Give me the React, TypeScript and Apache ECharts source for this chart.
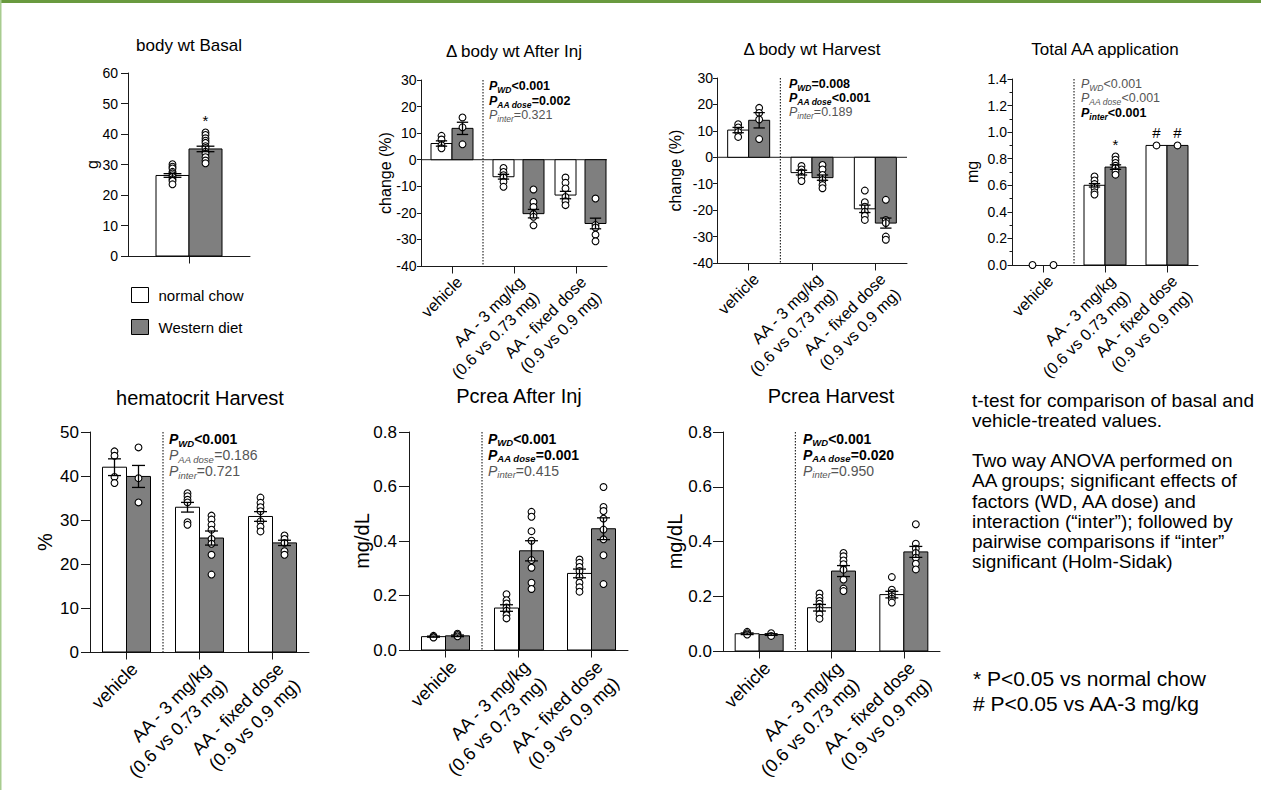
import React, { useEffect, useRef } from "react";
import * as echarts from "echarts";

const FONT = "'Liberation Sans', Arial, Helvetica, sans-serif";
const GRAY = "#7f7f7f";
const INK = "#1a1a1a";

// ---------- categories ----------
const basalCats = [""];
const aaCats = ["vehicle", "AA - 3 mg/kg\n(0.6 vs 0.73 mg)", "AA - fixed dose\n(0.9 vs 0.9 mg)"];

// ---------- body wt Basal (g) ----------
const bwBasalMeanNC = [26.4];
const bwBasalMeanWD = [35.1];
const bwBasalSemNC = [0.6];
const bwBasalSemWD = [0.9];
const bwBasalPtsNC = [[30.1, 29.3, 28.7, 27.6, 27.1, 26.5, 26.0, 25.2, 24.6, 23.5]];
const bwBasalPtsWD = [[40.5, 39.7, 38.6, 37.8, 37.1, 36.0, 35.4, 34.2, 33.6, 32.4, 31.3, 30.4]];

// ---------- Δ body wt After Inj (%) ----------
const bwInjMeanNC = [6.1, -6.4, -13.3];
const bwInjMeanWD = [11.8, -20.3, -24.0];
const bwInjSemNC = [1.0, 0.9, 1.4];
const bwInjSemWD = [2.3, 1.6, 2.0];
const bwInjPtsNC = [[9.0, 7.6, 5.5, 4.3], [-3.1, -4.6, -5.8, -6.7, -8.3, -10.2], [-6.7, -8.7, -10.8, -14.0, -15.6, -17.1]];
const bwInjPtsWD = [[15.9, 12.2, 5.8], [-11.2, -15.9, -17.8, -20.5, -21.5, -24.7], [-14.6, -24.6, -25.5, -28.2, -30.7]];

// ---------- Δ body wt Harvest (%) ----------
const bwHarMeanNC = [10.3, -5.8, -19.5];
const bwHarMeanWD = [14.0, -7.7, -24.9];
const bwHarSemNC = [1.0, 0.9, 1.4];
const bwHarSemWD = [2.9, 1.0, 1.9];
const bwHarPtsNC = [[12.5, 11.3, 9.6, 7.7], [-3.3, -4.6, -5.8, -7.4, -9.0], [-12.6, -17.0, -18.7, -20.6, -22.1, -23.7]];
const bwHarPtsWD = [[18.7, 16.8, 14.3, 6.9], [-2.9, -4.6, -6.7, -8.6, -10.5, -11.7], [-16.1, -23.7, -24.9, -30.0, -31.2]];

// ---------- Total AA application (mg) ----------
const aaMeanNC = [0, 0.6, 0.9];
const aaMeanWD = [0, 0.737, 0.9];
const aaSemNC = [0, 0.013, 0];
const aaSemWD = [0, 0.017, 0];
const aaPtsNC = [[0], [0.667, 0.637, 0.609, 0.58, 0.547, 0.53], [0.9]];
const aaPtsWD = [[0], [0.817, 0.793, 0.768, 0.747, 0.73, 0.705, 0.68], [0.9]];

// ---------- hematocrit Harvest (%) ----------
const hctMeanNC = [42.0, 32.9, 30.8];
const hctMeanWD = [39.9, 25.9, 24.8];
const hctSemNC = [1.9, 1.1, 1.1];
const hctSemWD = [2.5, 1.6, 0.6];
const hctPtsNC = [[45.6, 44.6, 39.8, 38.4], [36.1, 35.4, 34.6, 34.0, 29.5, 28.9], [35.1, 33.9, 32.9, 32.0, 29.7, 28.5, 27.4]];
const hctPtsWD = [[46.5, 39.5, 34.0], [31.0, 30.1, 28.9, 27.8, 25.7, 24.6, 22.1, 17.6], [26.5, 25.7, 24.8, 22.9, 22.1]];

// ---------- Pcrea After Inj (mg/dL) ----------
const pcInjMeanNC = [0.049, 0.154, 0.281];
const pcInjMeanWD = [0.052, 0.364, 0.445];
const pcInjSemNC = [0.002, 0.012, 0.016];
const pcInjSemWD = [0.003, 0.037, 0.04];
const pcInjPtsNC = [[0.052, 0.048, 0.046], [0.205, 0.183, 0.171, 0.156, 0.144, 0.128, 0.116], [0.332, 0.32, 0.305, 0.29, 0.269, 0.247, 0.23, 0.214]];
const pcInjPtsWD = [[0.06, 0.055, 0.05], [0.507, 0.489, 0.436, 0.401, 0.33, 0.302, 0.247, 0.224], [0.598, 0.525, 0.51, 0.482, 0.442, 0.406, 0.348, 0.242]];

// ---------- Pcrea Harvest (mg/dL) ----------
const pcHarMeanNC = [0.063, 0.158, 0.206];
const pcHarMeanWD = [0.06, 0.292, 0.362];
const pcHarSemNC = [0.003, 0.012, 0.012];
const pcHarSemWD = [0.003, 0.02, 0.02];
const pcHarPtsNC = [[0.07, 0.065, 0.06], [0.21, 0.195, 0.183, 0.173, 0.161, 0.149, 0.134, 0.118], [0.27, 0.224, 0.212, 0.2, 0.191, 0.177]];
const pcHarPtsWD = [[0.065, 0.055], [0.358, 0.346, 0.331, 0.317, 0.297, 0.261, 0.228, 0.219], [0.463, 0.392, 0.374, 0.358, 0.341, 0.319, 0.298]];

// ---------- statistics texts ----------
type PLine = [string, string, boolean];
const pBwInj: PLine[] = [["WD", "<0.001", true], ["AA dose", "=0.002", true], ["inter", "=0.321", false]];
const pBwHar: PLine[] = [["WD", "=0.008", true], ["AA dose", "<0.001", true], ["inter", "=0.189", false]];
const pAA: PLine[] = [["WD", "<0.001", false], ["AA dose", "<0.001", false], ["inter", "<0.001", true]];
const pHct: PLine[] = [["WD", "<0.001", true], ["AA dose", "=0.186", false], ["inter", "=0.721", false]];
const pPcInj: PLine[] = [["WD", "<0.001", true], ["AA dose", "=0.001", true], ["inter", "=0.415", false]];
const pPcHar: PLine[] = [["WD", "<0.001", true], ["AA dose", "=0.020", true], ["inter", "=0.950", false]];

// significance marks: [category, group (0 = normal chow, 1 = Western diet), symbol]
type Mark = [number, number, string];
const marksBasal: Mark[] = [[0, 1, "*"]];
const marksAA: Mark[] = [[1, 1, "*"], [2, 0, "#"], [2, 1, "#"]];

const noteText =
  "t-test for comparison of basal and\nvehicle-treated values.\n\nTwo way ANOVA performed on\nAA groups; significant effects of\nfactors (WD, AA dose) and\ninteraction (\u201cinter\u201d); followed by\npairwise comparisons if \u201cinter\u201d\nsignificant (Holm-Sidak)";
const footStar = "* P<0.05 vs normal chow";
const footHash = "# P<0.05 vs AA-3 mg/kg";

type Panel = {
  title: string;
  cats: string[];
  meanNC: number[]; meanWD: number[]; semNC: number[]; semWD: number[];
  ptsNC: number[][]; ptsWD: number[][];
  pvals?: PLine[];
  marks?: Mark[];
  grid: { left: number; top: number; width: number; height: number };
  y: { min: number; max: number; interval: number; decimals: number; minor?: boolean };
  yName: string; nameGap: number; nameSize: number;
  tickSize: number; tickLen: number; labelMargin: number;
  catSize: number; titleSize: number; titleX: number; titleTop: number;
  barW: number; gaps: number[]; sep: boolean;
  pPos?: { x: number; y: number; dy: number; main: number; sub: number };
};

const panels: Panel[] = [
  {
    title: "body wt Basal", cats: basalCats,
    meanNC: bwBasalMeanNC, meanWD: bwBasalMeanWD, semNC: bwBasalSemNC, semWD: bwBasalSemWD,
    ptsNC: bwBasalPtsNC, ptsWD: bwBasalPtsWD, marks: marksBasal,
    grid: { left: 128, top: 73, width: 122, height: 183 },
    y: { min: 0, max: 60, interval: 10, decimals: 0 },
    yName: "g", nameGap: 28, nameSize: 16, tickSize: 14, tickLen: 7, labelMargin: 10,
    catSize: 16, titleSize: 17, titleX: 189, titleTop: 37,
    barW: 33, gaps: [0], sep: false,
  },
  {
    title: "\u0394 body wt After Inj", cats: aaCats,
    meanNC: bwInjMeanNC, meanWD: bwInjMeanWD, semNC: bwInjSemNC, semWD: bwInjSemWD,
    ptsNC: bwInjPtsNC, ptsWD: bwInjPtsWD, pvals: pBwInj,
    grid: { left: 421, top: 80, width: 186, height: 186 },
    y: { min: -40, max: 30, interval: 10, decimals: 0 },
    yName: "change (%)", nameGap: 28, nameSize: 16, tickSize: 14, tickLen: 4, labelMargin: 4.5,
    catSize: 16, titleSize: 17, titleX: 514, titleTop: 43,
    barW: 21, gaps: [0, 9, 9], sep: true,
    pPos: { x: 489, y: 86, dy: 14.5, main: 12.5, sub: 8.5 },
  },
  {
    title: "\u0394 body wt Harvest", cats: aaCats,
    meanNC: bwHarMeanNC, meanWD: bwHarMeanWD, semNC: bwHarSemNC, semWD: bwHarSemWD,
    ptsNC: bwHarPtsNC, ptsWD: bwHarPtsWD, pvals: pBwHar,
    grid: { left: 717, top: 78, width: 190, height: 185 },
    y: { min: -40, max: 30, interval: 10, decimals: 0 },
    yName: "change (%)", nameGap: 34, nameSize: 16, tickSize: 14, tickLen: 4, labelMargin: 4,
    catSize: 16, titleSize: 17, titleX: 812, titleTop: 41,
    barW: 21, gaps: [0, 0, 0], sep: true,
    pPos: { x: 789, y: 83.5, dy: 14, main: 12.5, sub: 8.5 },
  },
  {
    title: "Total AA application", cats: aaCats,
    meanNC: aaMeanNC, meanWD: aaMeanWD, semNC: aaSemNC, semWD: aaSemWD,
    ptsNC: aaPtsNC, ptsWD: aaPtsWD, pvals: pAA, marks: marksAA,
    grid: { left: 1012, top: 79, width: 186, height: 186 },
    y: { min: 0, max: 1.4, interval: 0.2, decimals: 1, minor: true },
    yName: "mg", nameGap: 32, nameSize: 16, tickSize: 14, tickLen: 4.5, labelMargin: 5,
    catSize: 16, titleSize: 17, titleX: 1105, titleTop: 41,
    barW: 21, gaps: [0, 0, 0], sep: true,
    pPos: { x: 1081, y: 83.5, dy: 14.5, main: 12.5, sub: 8.5 },
  },
  {
    title: "hematocrit Harvest", cats: aaCats,
    meanNC: hctMeanNC, meanWD: hctMeanWD, semNC: hctSemNC, semWD: hctSemWD,
    ptsNC: hctPtsNC, ptsWD: hctPtsWD, pvals: pHct,
    grid: { left: 90, top: 432, width: 219, height: 220 },
    y: { min: 0, max: 50, interval: 10, decimals: 0 },
    yName: "%", nameGap: 35, nameSize: 20, tickSize: 17, tickLen: 9, labelMargin: 11,
    catSize: 18, titleSize: 20, titleX: 200, titleTop: 388,
    barW: 24, gaps: [0, 0, 0], sep: true,
    pPos: { x: 169, y: 439, dy: 16, main: 14, sub: 9.5 },
  },
  {
    title: "Pcrea After Inj", cats: aaCats,
    meanNC: pcInjMeanNC, meanWD: pcInjMeanWD, semNC: pcInjSemNC, semWD: pcInjSemWD,
    ptsNC: pcInjPtsNC, ptsWD: pcInjPtsWD, pvals: pPcInj,
    grid: { left: 409, top: 432, width: 219, height: 218 },
    y: { min: 0, max: 0.8, interval: 0.2, decimals: 1 },
    yName: "mg/dL", nameGap: 37, nameSize: 20, tickSize: 17, tickLen: 10, labelMargin: 12,
    catSize: 18, titleSize: 20, titleX: 519, titleTop: 386,
    barW: 24, gaps: [0, 1, 0], sep: true,
    pPos: { x: 488, y: 438.5, dy: 16, main: 14, sub: 9.5 },
  },
  {
    title: "Pcrea Harvest", cats: aaCats,
    meanNC: pcHarMeanNC, meanWD: pcHarMeanWD, semNC: pcHarSemNC, semWD: pcHarSemWD,
    ptsNC: pcHarPtsNC, ptsWD: pcHarPtsWD, pvals: pPcHar,
    grid: { left: 723, top: 432, width: 217, height: 219 },
    y: { min: 0, max: 0.8, interval: 0.2, decimals: 1 },
    yName: "mg/dL", nameGap: 38, nameSize: 20, tickSize: 17, tickLen: 10, labelMargin: 11,
    catSize: 18, titleSize: 20, titleX: 831, titleTop: 386,
    barW: 24, gaps: [0, 0, 0], sep: true,
    pPos: { x: 803, y: 438.5, dy: 16, main: 14, sub: 9.5 },
  },
];

function barCenter(p: Panel, i: number, grp: number, c: number) {
  return grp === 0 ? c - p.barW / 2 : c + p.gaps[i] + p.barW / 2;
}

function barRender(p: Panel, grp: number) {
  return (_params: any, api: any) => {
    const i = api.value(0);
    const m = api.value(1);
    if (!m) return null;
    const base = api.coord([i, 0]);
    const top = api.coord([i, m]);
    const x = grp === 0 ? base[0] - p.barW : base[0] + p.gaps[i];
    return {
      type: "rect",
      shape: { x, y: Math.min(base[1], top[1]), width: p.barW, height: Math.abs(base[1] - top[1]) },
      style: { fill: grp ? GRAY : "#ffffff", stroke: "#000", lineWidth: 1 },
    };
  };
}

function pointRender(p: Panel, grp: number) {
  return (_params: any, api: any) => {
    const i = api.value(0);
    const v = api.value(1);
    const pt = api.coord([i, v]);
    return {
      type: "circle",
      shape: { cx: barCenter(p, i, grp, pt[0]), cy: pt[1], r: 3.4 },
      style: { fill: "#ffffff", stroke: "#000", lineWidth: 1.1 },
    };
  };
}

function errRender(p: Panel, grp: number) {
  return (_params: any, api: any) => {
    const i = api.value(0);
    const m = api.value(1);
    const s = api.value(2);
    if (!s) return null;
    const c = api.coord([i, m]);
    const x = barCenter(p, i, grp, c[0]);
    const yt = api.coord([i, m + s])[1];
    const yb = api.coord([i, m - s])[1];
    const hw = Math.max(5, p.barW * 0.27);
    const st = { stroke: "#000", lineWidth: 1.3 };
    return {
      type: "group",
      children: [
        { type: "line", shape: { x1: x, y1: yt, x2: x, y2: yb }, style: st },
        { type: "line", shape: { x1: x - hw, y1: yt, x2: x + hw, y2: yt }, style: st },
        { type: "line", shape: { x1: x - hw, y1: yb, x2: x + hw, y2: yb }, style: st },
      ],
    };
  };
}

function frameRender(p: Panel) {
  return (params: any, api: any) => {
    const cs = params.coordSys;
    const children: any[] = [];
    if (p.sep) {
      const x = api.coord([1, 0])[0] - api.size([1, 0])[0] / 2;
      children.push({
        type: "line",
        shape: { x1: x, y1: cs.y, x2: x, y2: cs.y + cs.height },
        style: { stroke: "#000", lineWidth: 1, lineDash: [1.5, 1.5] },
      });
    }
    if (p.y.min < 0) {
      const y0 = api.coord([0, 0])[1];
      children.push({
        type: "line",
        shape: { x1: cs.x, y1: y0, x2: cs.x + cs.width, y2: y0 },
        style: { stroke: INK, lineWidth: 1 },
      });
    }
    return { type: "group", children };
  };
}

function markRender(p: Panel) {
  return (params: any, api: any) => {
    const mk = (p.marks as Mark[])[params.dataIndex];
    const [i, grp, sym] = mk;
    const pts = grp ? p.ptsWD[i] : p.ptsNC[i];
    const mean = grp ? p.meanWD[i] : p.meanNC[i];
    const sem = grp ? p.semWD[i] : p.semNC[i];
    const topVal = Math.max(mean + sem, ...pts);
    const c = api.coord([i, topVal]);
    const x = barCenter(p, i, grp, c[0]);
    const y = c[1] - 13 + (sym === "*" ? 1.5 : 0);
    return {
      type: "text",
      x,
      y,
      style: {
        text: sym,
        fontSize: 15,
        fontFamily: FONT,
        fill: "#000",
        align: "center",
        textAlign: "center",
        verticalAlign: "middle",
        textVerticalAlign: "middle",
      },
    };
  };
}

function pLineElems(p: Panel) {
  if (!p.pvals || !p.pPos) return [];
  const pp = p.pPos;
  return p.pvals.map(([sub, rest, bold], k) => {
    const fill = bold ? "#000" : "#555555";
    const w = bold ? "bold" : "normal";
    const lh = pp.main + 3;
    return {
      type: "text",
      x: pp.x,
      y: pp.y + k * pp.dy,
      silent: true,
      style: {
        text: `{p|P}{s|${sub}}{v|${rest}}`,
        align: "left",
        textAlign: "left",
        verticalAlign: "middle",
        textVerticalAlign: "middle",
        fill,
        fontFamily: FONT,
        rich: {
          p: { fontSize: pp.main, fontStyle: "italic", fontWeight: w, fontFamily: FONT, fill, lineHeight: lh },
          s: { fontSize: pp.sub, fontStyle: "italic", fontWeight: w, fontFamily: FONT, fill, lineHeight: pp.sub, padding: [lh - pp.sub + 1, 0, 0, 0] },
          v: { fontSize: pp.main, fontWeight: w, fontFamily: FONT, fill, lineHeight: lh },
        },
      },
    };
  });
}

function buildOption() {
  const grid: any[] = [];
  const xAxis: any[] = [];
  const yAxis: any[] = [];
  const series: any[] = [];
  const title: any[] = [];
  const graphic: any[] = [];

  panels.forEach((p, k) => {
    grid.push({ left: p.grid.left, top: p.grid.top, width: p.grid.width, height: p.grid.height, containLabel: false });
    xAxis.push({
      type: "category",
      gridIndex: k,
      data: p.cats,
      boundaryGap: true,
      axisLine: { onZero: false, lineStyle: { color: INK, width: 1 } },
      axisTick: { show: true, alignWithLabel: true, length: 7.5, lineStyle: { color: INK } },
      axisLabel: {
        show: p.cats.length > 1,
        interval: 0,
        rotate: 45,
        margin: 6,
        fontSize: p.catSize,
        fontFamily: FONT,
        color: "#000",
        lineHeight: Math.round(p.catSize * 1.3),
        verticalAlign: "top",
      },
      splitLine: { show: false },
    });
    yAxis.push({
      type: "value",
      gridIndex: k,
      min: p.y.min,
      max: p.y.max,
      interval: p.y.interval,
      name: p.yName,
      nameLocation: "middle",
      nameGap: p.nameGap,
      nameRotate: 90,
      nameMoveOverlap: false,
      nameTextStyle: { fontSize: p.nameSize, fontFamily: FONT, color: "#000" },
      axisLine: { show: true, lineStyle: { color: INK, width: 1 } },
      axisTick: { show: true, length: p.tickLen, lineStyle: { color: INK } },
      minorTick: p.y.minor ? { show: true, splitNumber: 2, length: 2.5, lineStyle: { color: INK } } : { show: false },
      axisLabel: {
        fontSize: p.tickSize,
        fontFamily: FONT,
        color: "#000",
        margin: p.labelMargin,
        formatter: (v: number) => v.toFixed(p.y.decimals),
      },
      splitLine: { show: false },
    });
    title.push({
      text: p.title,
      left: p.titleX,
      top: p.titleTop,
      textAlign: "center",
      padding: 0,
      textStyle: { fontSize: p.titleSize, fontWeight: "normal", fontFamily: FONT, color: "#000" },
    });

    const common = { xAxisIndex: k, yAxisIndex: k, silent: true, encode: { x: 0, y: 1 } };
    series.push({
      ...common, type: "custom", name: "frame", z: 1,
      data: [[0, p.y.min]], renderItem: frameRender(p),
    });
    series.push({
      ...common, type: "custom", name: "normal chow", z: 2,
      itemStyle: { color: "#ffffff", borderColor: "#000" },
      data: p.meanNC.map((m, i) => [i, m]), renderItem: barRender(p, 0),
    });
    series.push({
      ...common, type: "custom", name: "Western diet", z: 2,
      itemStyle: { color: GRAY, borderColor: "#000" },
      data: p.meanWD.map((m, i) => [i, m]), renderItem: barRender(p, 1),
    });
    series.push({
      ...common, type: "custom", name: "normal chow (individual)", z: 3,
      data: p.ptsNC.flatMap((arr, i) => arr.map((v) => [i, v])), renderItem: pointRender(p, 0),
    });
    series.push({
      ...common, type: "custom", name: "Western diet (individual)", z: 3,
      data: p.ptsWD.flatMap((arr, i) => arr.map((v) => [i, v])), renderItem: pointRender(p, 1),
    });
    series.push({
      ...common, type: "custom", name: "normal chow SEM", z: 4,
      data: p.meanNC.map((m, i) => [i, m, p.semNC[i]]), renderItem: errRender(p, 0),
    });
    series.push({
      ...common, type: "custom", name: "Western diet SEM", z: 4,
      data: p.meanWD.map((m, i) => [i, m, p.semWD[i]]), renderItem: errRender(p, 1),
    });
    if (p.marks) {
      series.push({
        ...common, type: "custom", name: "significance", z: 5,
        data: p.marks.map((mk) => [mk[0], p.y.min]), renderItem: markRender(p),
      });
    }
    graphic.push(...pLineElems(p));
  });

  graphic.push(
    { type: "rect", silent: true, shape: { x: 0, y: 0, width: 1261, height: 3 }, style: { fill: "#699a3f" } },
    { type: "rect", silent: true, shape: { x: 0, y: 0, width: 1.5, height: 790 }, style: { fill: "#a8cc8f" } },
    {
      type: "text", x: 972, y: 390, silent: true,
      style: { text: noteText, fontSize: 19, fontFamily: FONT, fill: "#000", lineHeight: 20.2, verticalAlign: "top", textVerticalAlign: "top" },
    },
    {
      type: "text", x: 973, y: 678, silent: true,
      style: { text: footStar, fontSize: 21, fontFamily: FONT, fill: "#000", verticalAlign: "middle", textVerticalAlign: "middle" },
    },
    {
      type: "text", x: 973, y: 703, silent: true,
      style: { text: footHash, fontSize: 21, fontFamily: FONT, fill: "#000", verticalAlign: "middle", textVerticalAlign: "middle" },
    }
  );

  return {
    animation: false,
    backgroundColor: "#ffffff",
    textStyle: { fontFamily: FONT },
    title,
    grid,
    xAxis,
    yAxis,
    series,
    graphic,
    legend: {
      left: 131,
      top: 287,
      padding: 0,
      orient: "vertical",
      itemWidth: 17,
      itemHeight: 15,
      itemGap: 16,
      selectedMode: false,
      textStyle: { fontSize: 15, fontFamily: FONT, color: "#000", padding: [0, 0, 0, 5] },
      data: [
        { name: "normal chow", icon: "rect", itemStyle: { color: "#ffffff", borderColor: "#000", borderWidth: 1 } },
        { name: "Western diet", icon: "rect", itemStyle: { color: GRAY, borderColor: "#000", borderWidth: 1 } },
      ],
    },
  };
}

export default function App() {
  const ref = useRef<HTMLDivElement>(null);
  useEffect(() => {
    if (!ref.current) return;
    const chart = echarts.init(ref.current, undefined, { renderer: "svg" });
    chart.setOption(buildOption() as any);
    return () => chart.dispose();
  }, []);
  return (
    <div
      ref={ref}
      style={{ position: "absolute", left: 0, top: 0, width: 1261, height: 790, background: "#fff" }}
    />
  );
}
